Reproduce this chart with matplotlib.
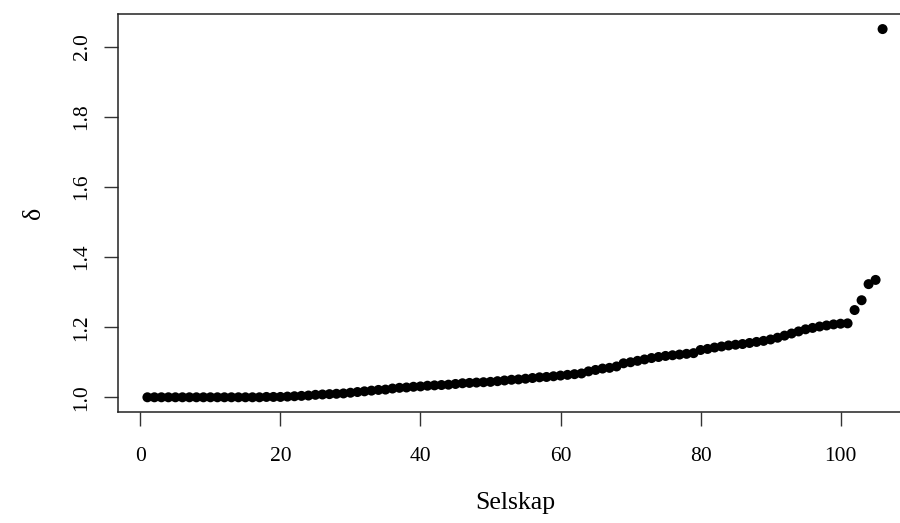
import matplotlib
matplotlib.use("Agg")
import matplotlib.pyplot as plt

# sorted delta per company (Selskap index 1..106)
delta = [
    1.000, 1.000, 1.000, 1.000, 1.000, 1.000, 1.000, 1.000, 1.000, 1.000,
    1.000, 1.000, 1.000, 1.000, 1.000, 1.000, 1.000, 1.001, 1.001, 1.001,
    1.002, 1.003, 1.004, 1.005, 1.007, 1.008, 1.009, 1.010, 1.011, 1.013,
    1.015, 1.017, 1.019, 1.021, 1.022, 1.025, 1.027, 1.028, 1.030, 1.031,
    1.033, 1.034, 1.035, 1.036, 1.038, 1.040, 1.041, 1.042, 1.043, 1.044,
    1.046, 1.048, 1.050, 1.051, 1.053, 1.055, 1.057, 1.058, 1.060, 1.062,
    1.064, 1.066, 1.068, 1.074, 1.078, 1.082, 1.084, 1.088, 1.097, 1.100,
    1.104, 1.108, 1.112, 1.115, 1.118, 1.120, 1.122, 1.124, 1.126, 1.135,
    1.138, 1.142, 1.145, 1.148, 1.150, 1.152, 1.155, 1.158, 1.161, 1.165,
    1.170, 1.176, 1.182, 1.188, 1.194, 1.198, 1.202, 1.205, 1.208, 1.210,
    1.211, 1.249, 1.277, 1.323, 1.335, 2.051,
]
selskap = list(range(1, len(delta) + 1))
x_ticks = [0, 20, 40, 60, 80, 100]
y_ticks = [1.0, 1.2, 1.4, 1.6, 1.8, 2.0]

plt.rcParams['font.family'] = ['Liberation Serif', 'DejaVu Serif']

W, H = 900, 523
fig = plt.figure(figsize=(9, 5.23), dpi=100)
# plot region like R base graphics; right edge runs slightly past the image
left, right, top, bottom = 118, 912, 14, 412
ax = fig.add_axes([left / W, 1 - bottom / H, (right - left) / W, (bottom - top) / H])

ax.scatter(selskap, delta, s=52, color='black', edgecolors='none', zorder=3)

ax.set_xlim(-3.2, 110.2)
ax.set_ylim(0.958, 2.094)
ax.set_xticks(x_ticks)
ax.set_xticklabels([str(t) for t in x_ticks])
ax.set_yticks(y_ticks)
ax.set_yticklabels(["%.1f" % t for t in y_ticks], rotation=90, va='center')

for sp in ax.spines.values():
    sp.set_color('#222222')
    sp.set_linewidth(1.1)
ax.tick_params(axis='both', length=10, width=1.0, color='#333333', labelsize=15.5)
ax.tick_params(axis='x', pad=15)
ax.tick_params(axis='y', pad=9)

ax.set_xlabel("Selskap", fontsize=18.5, labelpad=19)
ax.set_ylabel("δ", fontsize=18.5, labelpad=20)

fig.savefig("out.png", dpi=100)
